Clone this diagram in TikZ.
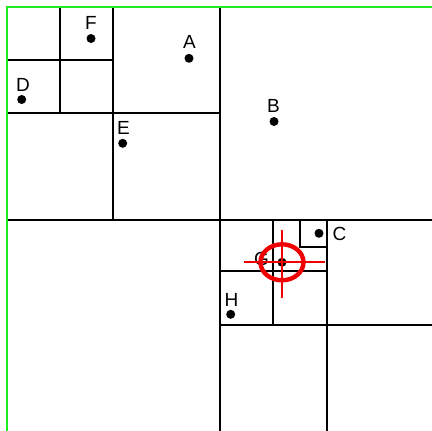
\documentclass[tikz,border=0pt]{standalone}
\usepackage{fontspec}
\setmainfont{Liberation Sans}
\usetikzlibrary{positioning}
\definecolor{RootGreen}  {RGB}{ 30, 235,  30}
\definecolor{CellBlack}  {RGB}{  0,   0,   0}
\definecolor{TargetRed}  {RGB}{240,   0,   0}
\tikzset{
  % Outer border of the root square
  rootbox/.style={
    draw=RootGreen, line width=2.2pt
  },
  % Quadtree cell divisions
  cell/.style={
    draw=CellBlack, line width=2.2pt
  },
  % Data point
  pt/.style={
    circle, fill=black, inner sep=0pt, minimum size=9pt
  },
  % Point name
  ptlabel/.style={
    font=\fontsize{19}{23}\selectfont, inner sep=0pt, anchor=center
  },
  % Query marker
  target/.style={
    draw=TargetRed, line width=4.4pt
  },
  crosshair/.style={
    draw=TargetRed, line width=2.2pt
  }
}

\begin{document}
\begin{tikzpicture}[x=1pt, y=-1pt]
  \useasboundingbox (0,0) rectangle (432,431);

  % ── Cell divisions ───────────────────────────────────────────────────────

  % root split
  \draw[cell] (220,7) -- (220,431);
  \draw[cell] (7,220) -- (432,220);

  % upper left quadrant
  \draw[cell] (113,7) -- (113,220);
  \draw[cell] (7,113) -- (220,113);
  \draw[cell] (60,7) -- (60,113);
  \draw[cell] (7,60) -- (113,60);

  % lower right quadrant
  \draw[cell] (327,220) -- (327,431);
  \draw[cell] (220,325) -- (432,325);
  \draw[cell] (273,220) -- (273,325);
  \draw[cell] (220,271) -- (327,271);
  \draw[cell] (300,220) -- (300,247) -- (327,247);

  % ── Root border ──────────────────────────────────────────────────────────
  \draw[rootbox] (7,431) -- (7,7) -- (432,7);

  % ── Points ───────────────────────────────────────────────────────────────
  \node[pt] (F) at (91,38.5) {};
  \node[pt] (D) at (21.7,99.5) {};
  \node[pt] (A) at (189,58.3) {};
  \node[pt] (B) at (274,121.5) {};
  \node[pt] (E) at (122.7,143.3) {};
  \node[pt] (C) at (319,233.3) {};
  \node[pt] (G) at (282,262.3) {};
  \node[pt] (H) at (230.7,314.3) {};

  % ── Point names ──────────────────────────────────────────────────────────
  \node[ptlabel] (F_lbl) at (91,23) {F};
  \node[ptlabel] (D_lbl) at (23,85) {D};
  \node[ptlabel] (A_lbl) at (189.5,42) {A};
  \node[ptlabel] (B_lbl) at (273.5,106) {B};
  \node[ptlabel] (E_lbl) at (123.5,127.5) {E};
  \node[ptlabel] (C_lbl) at (339.5,233.5) {C};
  \node[ptlabel] (G_lbl) at (261.5,259) {G};
  \node[ptlabel] (H_lbl) at (231.5,299.5) {H};

  % ── Query marker round G ────────────────────────────────────────────────
  \draw[target] (G.center) ellipse [x radius=21.5pt, y radius=18pt];
  \draw[crosshair] ([xshift=-38pt]G.center) -- ([xshift=43pt]G.center);
  \draw[crosshair] ([yshift=32pt]G.center) -- ([yshift=-36pt]G.center);

\end{tikzpicture}
\end{document}
